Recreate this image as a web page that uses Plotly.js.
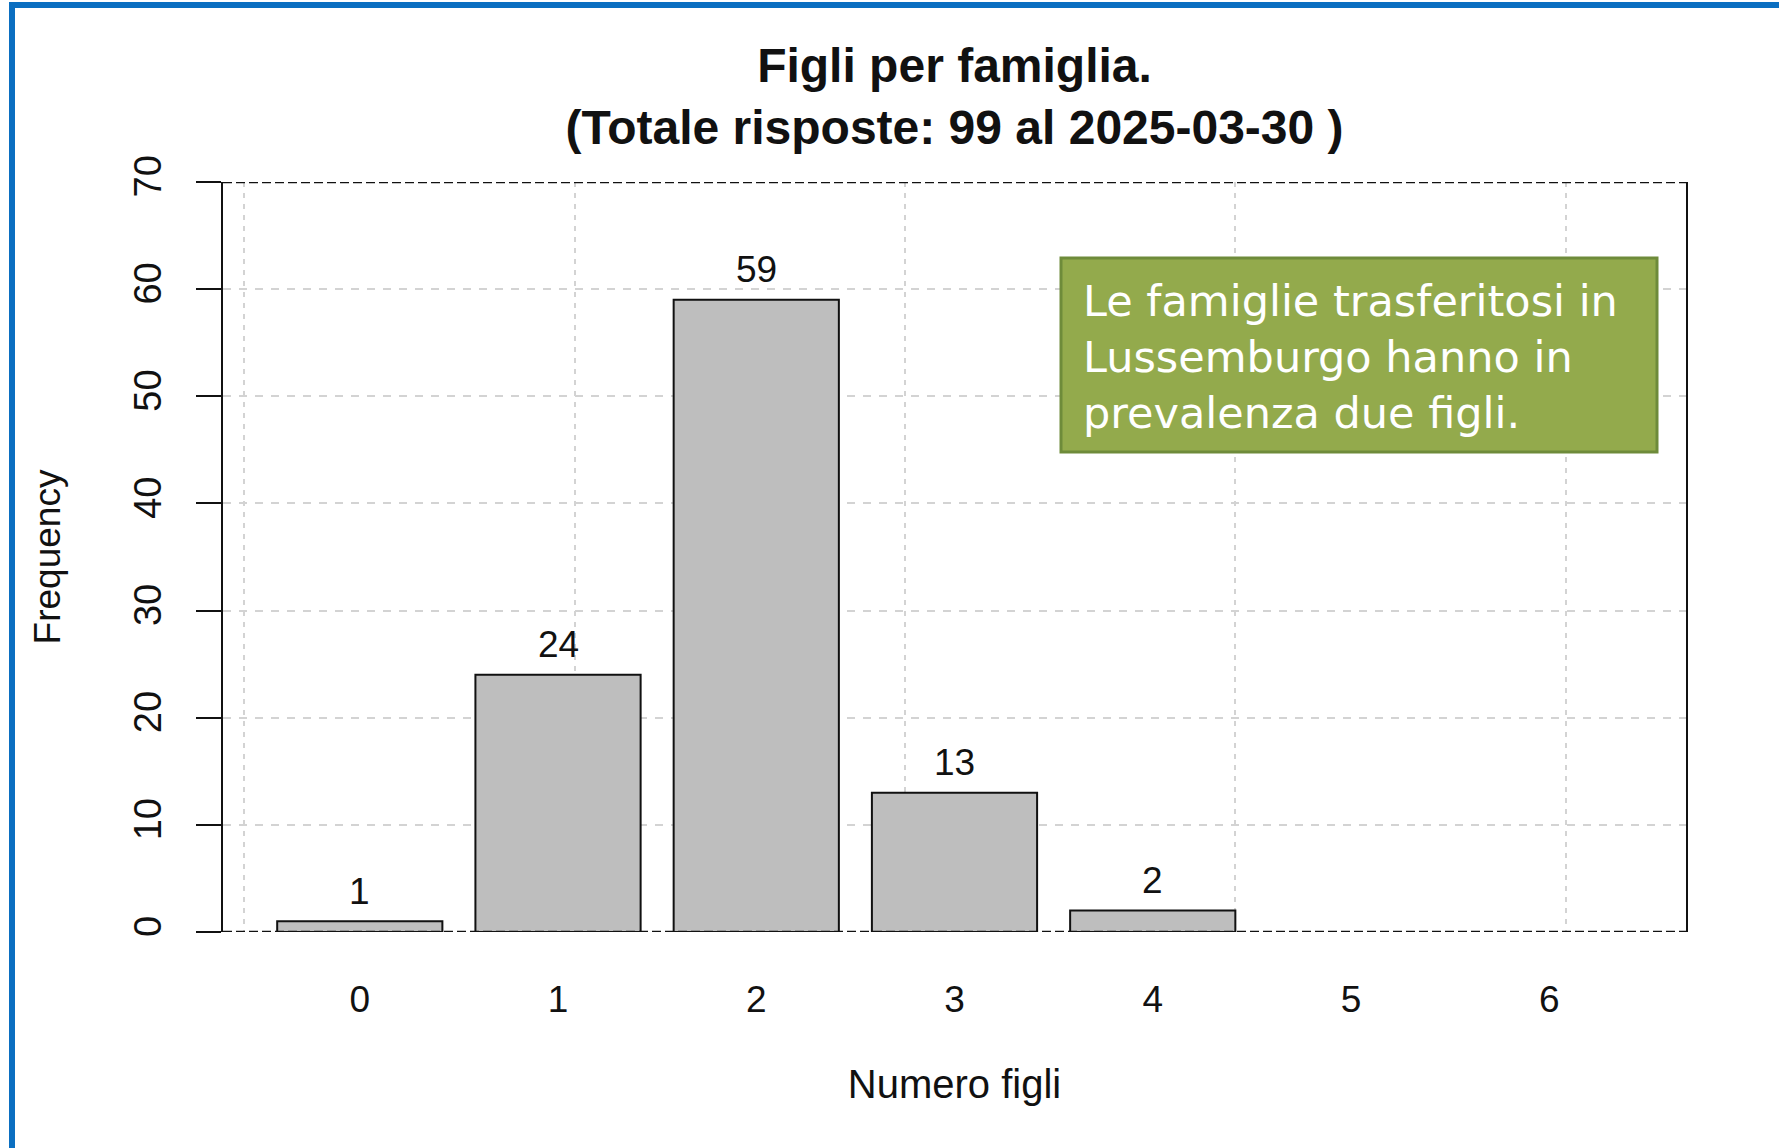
<!DOCTYPE html>
<html>
<head>
<meta charset="utf-8">
<script src="https://cdn.plot.ly/plotly-3.0.1.min.js"></script>
<style>
  html, body { margin: 0; padding: 0; background: #ffffff; overflow: hidden; }
  #chart { width: 1779px; height: 1148px; }
  #frame { position: absolute; left: 9px; top: 2px; width: 1800px; height: 1200px;
           border-left: 6px solid #0B6FC1; border-top: 6px solid #0B6FC1; pointer-events: none; }
</style>
</head>
<body>
<div id="chart"></div>
<div id="frame"></div>
<script>
// ---- data ----
const categories = ['0', '1', '2', '3', '4', '5', '6'];
const frequencies = [1, 24, 59, 13, 2, 0, 0];
const yTickValues = [0, 10, 20, 30, 40, 50, 60, 70];
const titleLines = ['Figli per famiglia.', '(Totale risposte: 99 al 2025-03-30 )'];
const xTitle = 'Numero figli';
const yTitle = 'Frequency';
const noteLines = ['Le famiglie trasferitosi in', 'Lussemburgo hanno in', 'prevalenza due figli.'];

// R barplot geometry (width 1, space 0.2)
const barCenters = categories.map((c, i) => 0.7 + 1.2 * i);
const lastRight = barCenters[barCenters.length - 1] + 0.5;
const xMin = 0.2 - 0.04 * (lastRight - 0.2);
const xMax = lastRight + 0.04 * (lastRight - 0.2);
const xGridVals = [0, 2, 4, 6, 8];

const FONT = 'Liberation Sans, Arial, Helvetica, sans-serif';

const bars = {
  type: 'bar',
  x: barCenters,
  y: frequencies,
  width: 1,
  marker: { color: '#BEBEBE', line: { color: '#111111', width: frequencies.map(v => v > 0 ? 2 : 0) } },
  hoverinfo: 'x+y',
  showlegend: false
};
const helper = {
  type: 'scatter', x: [], y: [], xaxis: 'x2', yaxis: 'y',
  hoverinfo: 'skip', showlegend: false
};

const valueLabels = frequencies.map((v, i) => v > 0 ? {
  x: barCenters[i], y: v, xref: 'x', yref: 'y',
  text: String(v), showarrow: false, yanchor: 'middle', yshift: 30,
  font: { family: FONT, size: 37, color: '#111111' }
} : null).filter(a => a);

const frameLines = [yTickValues[0], yTickValues[yTickValues.length - 1]].map(v => ({
  type: 'line', xref: 'paper', yref: 'y', x0: 0, x1: 1, y0: v, y1: v,
  line: { color: '#111111', width: 2.5, dash: '9px,4px' }, layer: 'above'
}));

const layout = {
  width: 1779, height: 1148,
  margin: { l: 223, r: 93, t: 182, b: 216, pad: 0 },
  paper_bgcolor: '#ffffff', plot_bgcolor: '#ffffff',
  font: { family: FONT, color: '#111111' },
  title: {
    text: '<b>' + titleLines.join('<br>') + '</b>',
    font: { family: FONT, size: 48, color: '#111111' },
    x: 0.5, xref: 'paper', xanchor: 'center',
    y: 1 - 82 / 1148, yref: 'container', yanchor: 'middle'
  },
  xaxis: {
    range: [xMin, xMax], tickvals: barCenters, ticktext: categories,
    showgrid: false, zeroline: false, showline: false,
    ticks: 'outside', ticklen: 35, tickcolor: 'rgba(0,0,0,0)',
    tickfont: { family: FONT, size: 37, color: '#111111' },
    title: { text: xTitle, font: { family: FONT, size: 40, color: '#111111' }, standoff: 50 },
    fixedrange: true
  },
  xaxis2: {
    overlaying: 'x', range: [xMin, xMax], tickvals: xGridVals,
    showticklabels: false, ticks: '', showgrid: true,
    gridcolor: '#D3D3D3', gridwidth: 2, griddash: '5px,6px',
    zeroline: false, showline: false, fixedrange: true
  },
  yaxis: {
    range: [0, 70], tickvals: yTickValues,
    showgrid: true, gridcolor: '#D3D3D3', gridwidth: 2, griddash: '8px,8px',
    zeroline: false, showline: true, linecolor: '#111111', linewidth: 2, mirror: true,
    ticks: 'outside', ticklen: 25, tickwidth: 2, tickcolor: '#111111',
    tickangle: -90, ticklabelstandoff: 20,
    tickfont: { family: FONT, size: 38, color: '#111111' },
    title: { text: yTitle, font: { family: FONT, size: 37, color: '#111111' }, standoff: 55 },
    fixedrange: true
  },
  shapes: frameLines.concat([{
    type: 'rect', xref: 'paper', yref: 'paper',
    x0: (1061 - 223) / 1463, x1: (1657 - 223) / 1463,
    y0: (932 - 452) / 750, y1: (932 - 258) / 750,
    fillcolor: '#93AA4C', line: { color: '#6E8B3A', width: 3 }, layer: 'above'
  }]),
  annotations: valueLabels.concat([{
    xref: 'paper', yref: 'paper',
    x: (1081 - 223) / 1463, y: (932 - 357) / 750,
    xanchor: 'left', yanchor: 'middle', align: 'left', showarrow: false,
    text: noteLines.join('<br>'),
    font: { family: 'DejaVu Sans, sans-serif', size: 43, weight: 400, color: '#ffffff' }
  }]),
  bargap: 0
};

Plotly.newPlot('chart', [bars, helper], layout, { displayModeBar: false, staticPlot: true });
</script>
</body>
</html>
